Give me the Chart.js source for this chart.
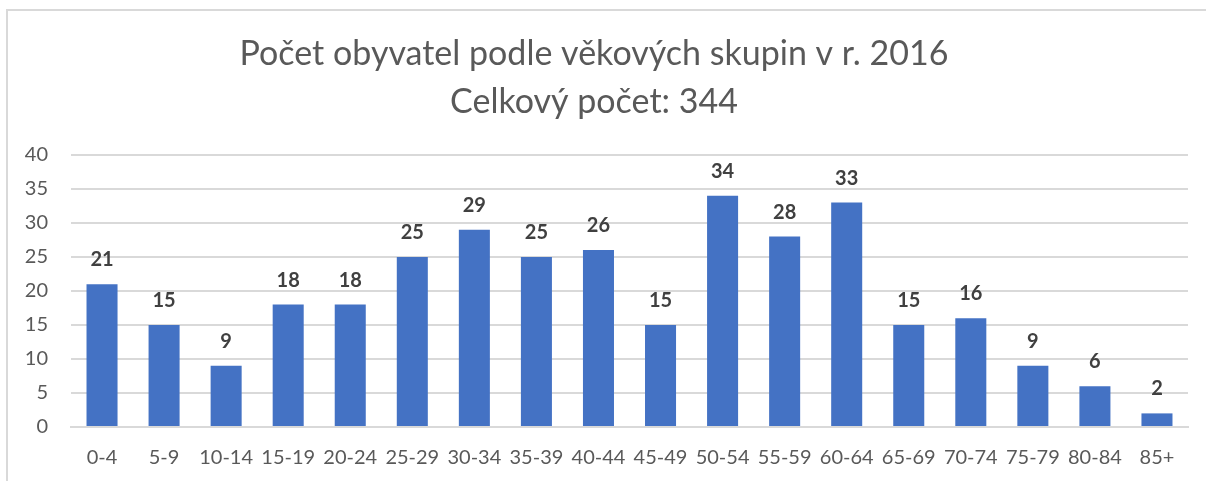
<!DOCTYPE html>
<html>
<head>
<meta charset="utf-8">
<script src="https://cdn.jsdelivr.net/npm/chart.js@4"></script>
<style>
body { margin: 0; background: #fff; }
#wrap { position: relative; width: 1206px; height: 481px; }
#frame { position: absolute; left: 6px; top: 9px; width: 1210px; height: 480px; border-top: 2px solid #d9d9d9; border-left: 2px solid #d9d9d9; }
canvas { position: absolute; left: 0; top: 0; }
</style>
</head>
<body>
<div id="wrap">
<div id="frame"></div>
<canvas id="myChart" width="1206" height="481"></canvas>
</div>
<script>
var titleLines = ["Počet obyvatel podle věkových skupin v r. 2016", "Celkový počet: 344"];
var ageGroups = ["0-4", "5-9", "10-14", "15-19", "20-24", "25-29", "30-34", "35-39", "40-44", "45-49", "50-54", "55-59", "60-64", "65-69", "70-74", "75-79", "80-84", "85+"];
var people = [21, 15, 9, 18, 18, 25, 29, 25, 26, 15, 34, 28, 33, 15, 16, 9, 6, 2];

var fontFamily = "Lato, 'Open Sans', sans-serif";

// draws the numbers above each bar
var valueLabels = {
    id: "valueLabels",
    afterDatasetsDraw: function (chart) {
        var ctx = chart.ctx;
        var meta = chart.getDatasetMeta(0);
        ctx.save();
        ctx.font = "bold 20px " + fontFamily;
        ctx.fillStyle = "#404040";
        ctx.textAlign = "center";
        ctx.textBaseline = "alphabetic";
        meta.data.forEach(function (bar, i) {
            ctx.fillText(people[i], bar.x, bar.y - 18);
        });
        ctx.restore();
    }
};

new Chart("myChart", {
    type: "bar",
    data: {
        labels: ageGroups,
        datasets: [{
            data: people,
            backgroundColor: "#4472C4",
            categoryPercentage: 1,
            barPercentage: 0.5
        }]
    },
    options: {
        responsive: false,
        animation: false,
        layout: { padding: { left: 0, right: 18, top: 0, bottom: 0 } },
        plugins: {
            legend: { display: false },
            tooltip: { enabled: false },
            title: {
                display: true,
                text: titleLines,
                color: "#595959",
                font: { family: fontFamily, size: 34, weight: "normal", lineHeight: 1.41 },
                padding: { top: 30, bottom: 29 }
            }
        },
        scales: {
            x: {
                grid: { display: false },
                border: { display: true, color: "#d9d9d9", width: 2 },
                ticks: { color: "#595959", font: { family: fontFamily, size: 20 }, padding: 11, maxRotation: 0, autoSkip: false }
            },
            y: {
                min: 0,
                max: 40,
                afterFit: function (s) { s.width = 71; },
                grid: { color: "#d9d9d9", lineWidth: 2, drawTicks: false },
                border: { display: false },
                ticks: { stepSize: 5, color: "#595959", font: { family: fontFamily, size: 20 }, padding: 23 }
            }
        }
    },
    plugins: [valueLabels]
});
</script>
</body>
</html>
